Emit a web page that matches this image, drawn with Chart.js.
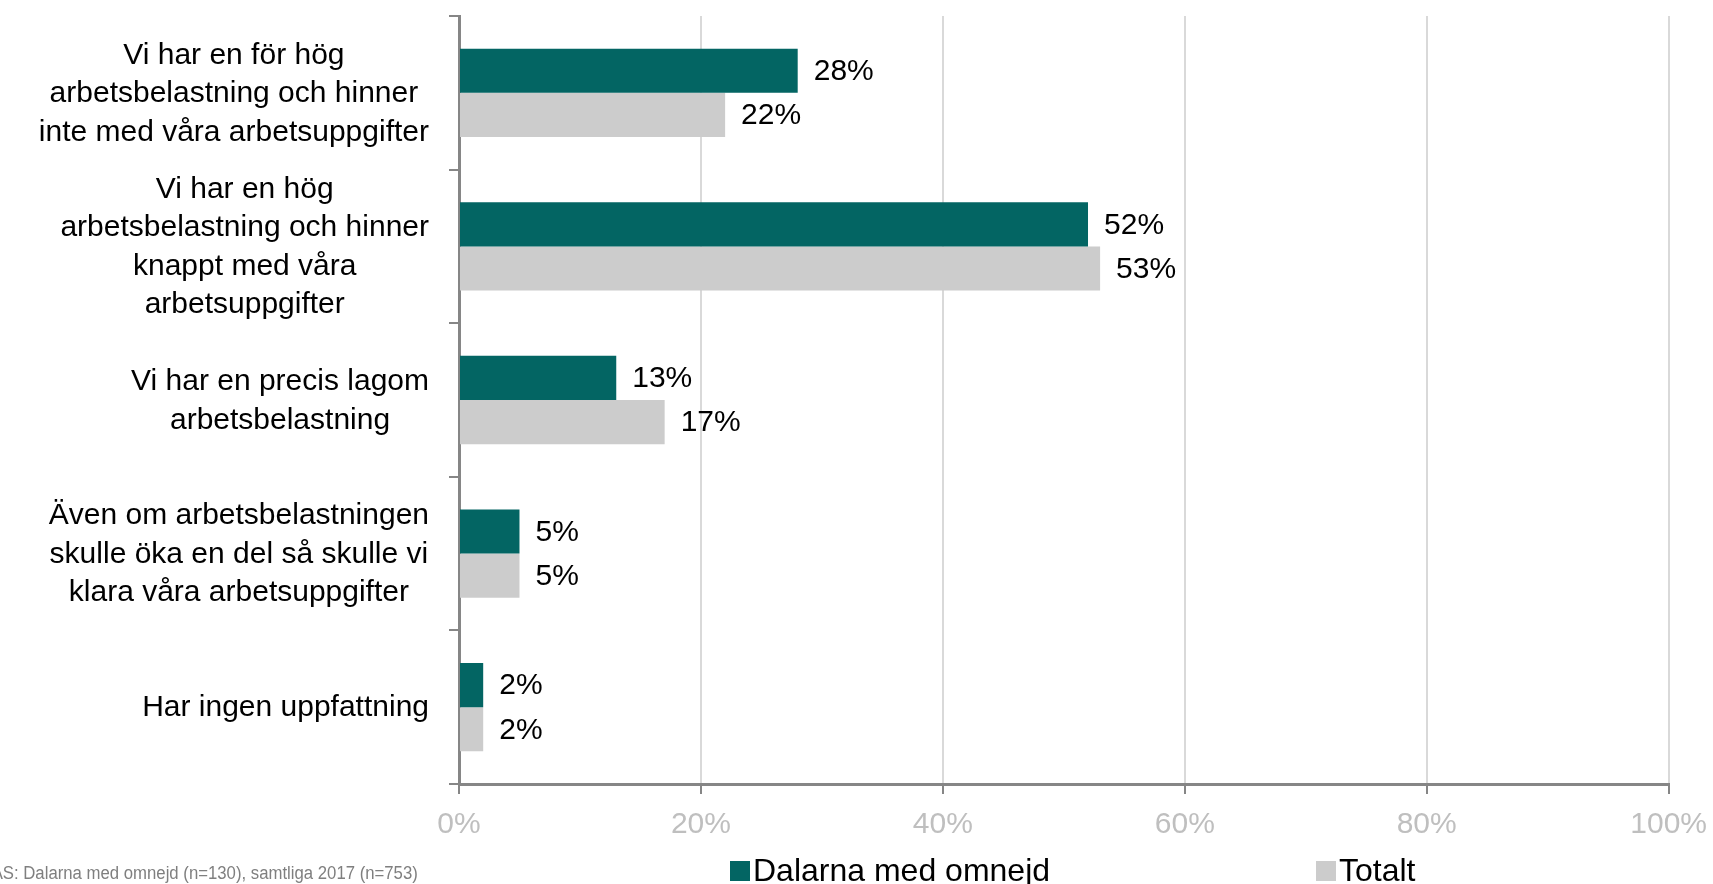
<!DOCTYPE html>
<html>
<head>
<meta charset="utf-8">
<script src="https://cdn.jsdelivr.net/npm/chart.js@4.4.0/dist/chart.umd.min.js"></script>
<style>
  html, body { margin: 0; padding: 0; background: #fff; }
  canvas { display: block; }
</style>
</head>
<body>
<canvas id="chart" width="1713" height="884"></canvas>
<script>
const categories = [
  ['Vi har en för hög', 'arbetsbelastning och hinner', 'inte med våra arbetsuppgifter'],
  ['Vi har en hög', 'arbetsbelastning och hinner', 'knappt med våra', 'arbetsuppgifter'],
  ['Vi har en precis lagom', 'arbetsbelastning'],
  ['Även om arbetsbelastningen', 'skulle öka en del så skulle vi', 'klara våra arbetsuppgifter'],
  ['Har ingen uppfattning']
]
const seriesNames = ['Dalarna med omnejd', 'Totalt']
const dalarna = [28, 52, 13, 5, 2]
const totalt = [22, 53, 17, 5, 2]
const footnote = 'BAS: Dalarna med omnejd (n=130), samtliga 2017 (n=753)'

const FONT = '"Liberation Sans", Arial, sans-serif'
const colors = ['#036563', '#cccccc']
const axisGray = '#868686'

Chart.defaults.font.family = FONT

// percent labels to the right of each bar
const valueLabels = {
  id: 'valueLabels',
  afterDatasetsDraw(chart) {
    const ctx = chart.ctx
    ctx.save()
    ctx.font = '30px ' + FONT
    ctx.fillStyle = '#000'
    ctx.textAlign = 'left'
    ctx.textBaseline = 'middle'
    chart.data.datasets.forEach((ds, i) => {
      chart.getDatasetMeta(i).data.forEach((bar, j) => {
        ctx.fillText(ds.data[j] + '%', bar.x + 16, bar.y + 1)
      })
    })
    ctx.restore()
  }
}

// category labels: block right aligned, lines centred inside the block
const categoryLabels = {
  id: 'categoryLabels',
  afterDraw(chart) {
    const ctx = chart.ctx
    const y = chart.scales.y
    const right = 429
    const lh = 38.5
    ctx.save()
    ctx.font = '30px ' + FONT
    ctx.fillStyle = '#000'
    ctx.textAlign = 'center'
    ctx.textBaseline = 'middle'
    categories.forEach((lines, i) => {
      const w = Math.max(...lines.map(l => ctx.measureText(l).width))
      const cx = right - w / 2
      const cy = y.getPixelForValue(i) + 1
      lines.forEach((l, k) => {
        ctx.fillText(l, cx, cy + (k - (lines.length - 1) / 2) * lh)
      })
    })
    ctx.restore()
  }
}

// legend and source note at the bottom
const bottomTexts = {
  id: 'bottomTexts',
  afterDraw(chart) {
    const ctx = chart.ctx
    const legendX = [730, 1316]
    const legendY = 871
    ctx.save()
    ctx.textBaseline = 'middle'
    ctx.textAlign = 'left'
    ctx.font = '32px ' + FONT
    chart.data.datasets.forEach((ds, i) => {
      ctx.fillStyle = ds.backgroundColor
      ctx.fillRect(legendX[i], legendY - 10, 20, 20)
      ctx.fillStyle = '#000'
      ctx.fillText(ds.label, legendX[i] + 23, legendY + 1)
    })
    ctx.font = '18px ' + FONT
    ctx.fillStyle = '#7f7f7f'
    ctx.scale(0.93, 1)
    ctx.fillText(footnote, -21, 874)
    ctx.restore()
  }
}

new Chart(document.getElementById('chart'), {
  type: 'bar',
  data: {
    labels: categories,
    datasets: [
      { label: seriesNames[0], data: dalarna, backgroundColor: colors[0] },
      { label: seriesNames[1], data: totalt, backgroundColor: colors[1] }
    ]
  },
  options: {
    indexAxis: 'y',
    responsive: false,
    animation: false,
    devicePixelRatio: 1,
    layout: { padding: { top: 16, right: 40, bottom: 0, left: 0 } },
    datasets: {
      bar: { categoryPercentage: 0.575, barPercentage: 1.0, borderWidth: 0 }
    },
    plugins: {
      legend: { display: false },
      tooltip: { enabled: false }
    },
    scales: {
      x: {
        type: 'linear',
        min: 0,
        max: 100,
        ticks: {
          stepSize: 20,
          color: '#bfbfbf',
          font: { size: 30, lineHeight: 1.65 },
          padding: 6,
          callback: v => v + '%'
        },
        grid: {
          color: '#d9d9d9',
          lineWidth: 2,
          tickColor: axisGray,
          tickLength: 10
        },
        border: { color: axisGray, width: 3 },
        afterFit(scale) { scale.height = 100 }
      },
      y: {
        ticks: { display: false },
        grid: {
          offset: true,
          drawOnChartArea: false,
          color: axisGray,
          lineWidth: 2,
          tickLength: 10
        },
        border: { color: axisGray, width: 3 },
        afterFit(scale) { scale.width = 459 }
      }
    }
  },
  plugins: [valueLabels, categoryLabels, bottomTexts]
})
</script>
</body>
</html>
